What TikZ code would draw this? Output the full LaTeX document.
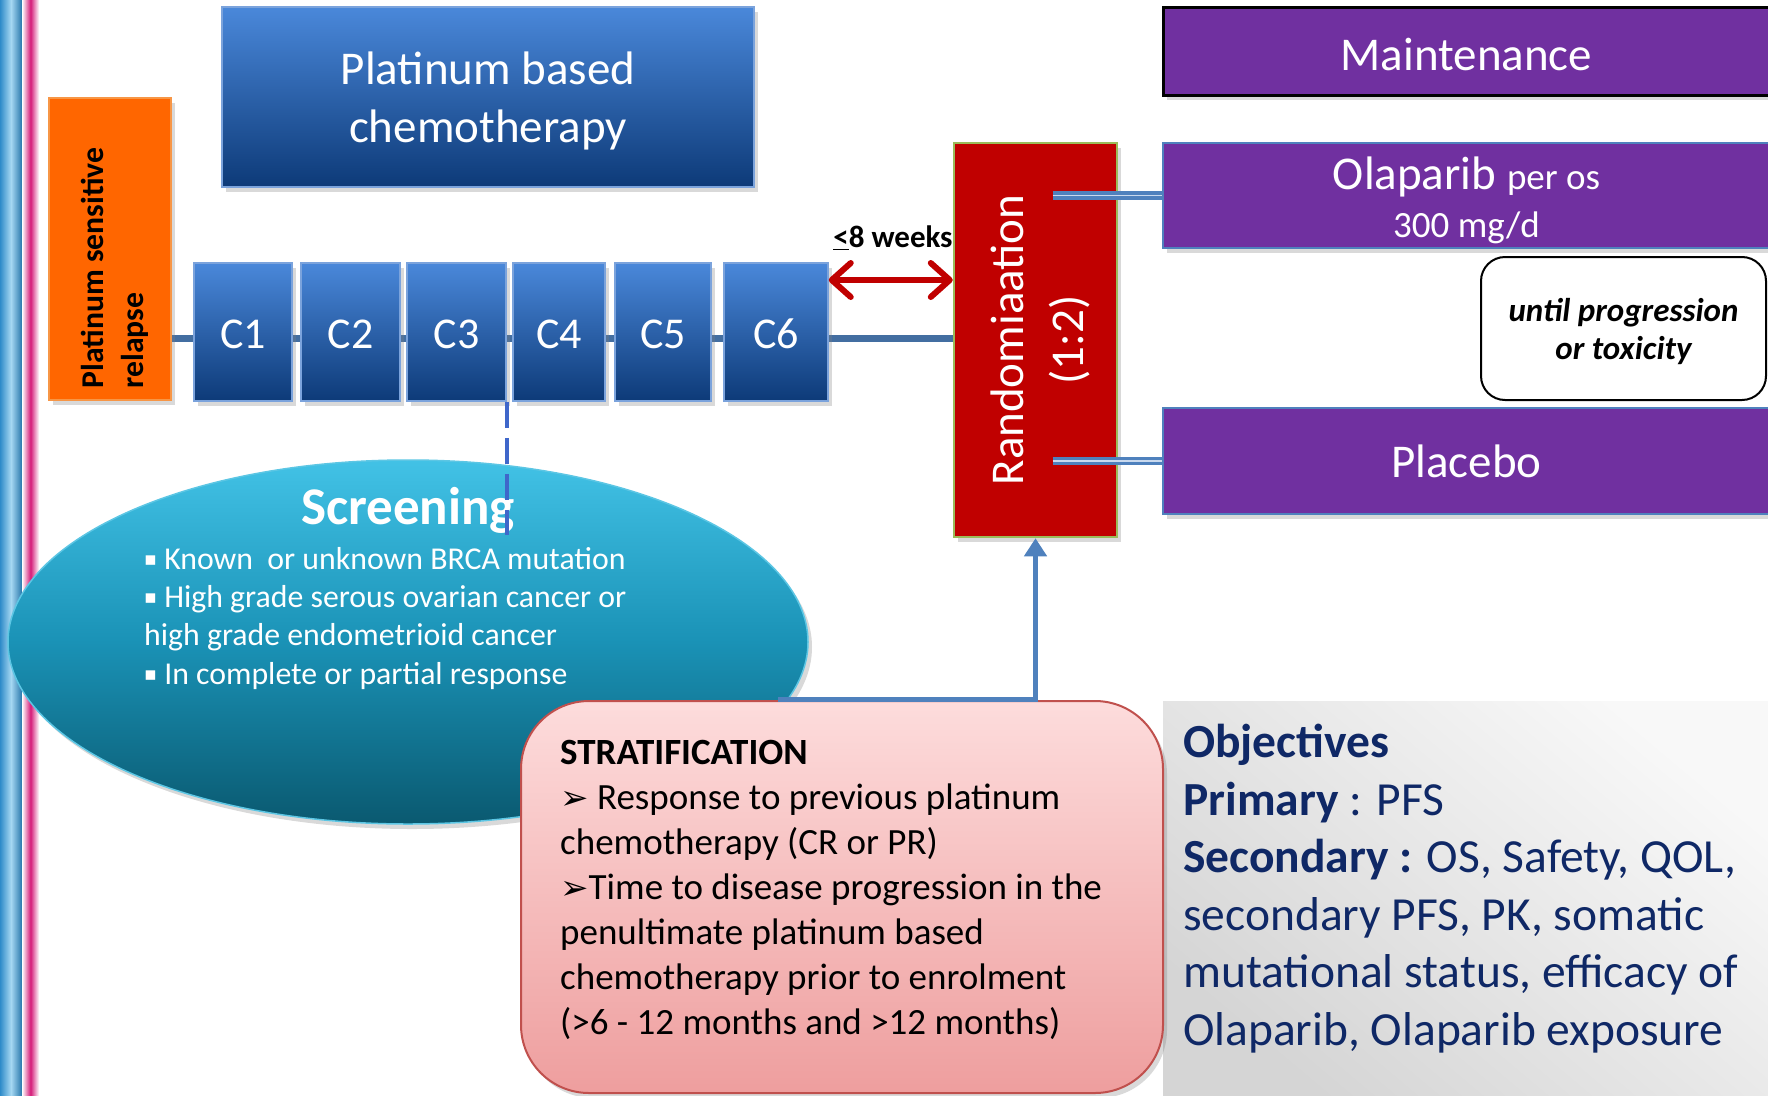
\documentclass[tikz,border=0pt]{standalone}
\usepackage{fontspec}
\setmainfont{Carlito}
\newfontfamily\symfont{DejaVu Sans}
\usetikzlibrary{arrows.meta}
\usetikzlibrary{shadows}
\usetikzlibrary{shapes.geometric, backgrounds, positioning}

\definecolor{relapseorange}{HTML}{FF6600}
\definecolor{relapseedge}{HTML}{F79646}
\definecolor{chemotop}{HTML}{4A88DA}
\definecolor{chemobot}{HTML}{0D3A78}
\definecolor{chemoedge}{HTML}{7BA3DC}
\definecolor{randred}{HTML}{C00000}
\definecolor{randedge}{HTML}{9BBB59}
\definecolor{armpurple}{HTML}{7030A0}
\definecolor{armedge}{HTML}{4F81BD}
\definecolor{linkblue}{HTML}{4F81BD}
\definecolor{linklight}{HTML}{C9D9EE}
\definecolor{screentop}{HTML}{42C2E6}
\definecolor{screenmid}{HTML}{1A92B6}
\definecolor{screenbot}{HTML}{0A5970}
\definecolor{screenedge}{HTML}{5CC6E4}
\definecolor{strattop}{HTML}{FDDCDC}
\definecolor{stratbot}{HTML}{EE9E9E}
\definecolor{stratedge}{HTML}{C0504D}
\definecolor{objtop}{HTML}{F8F8F8}
\definecolor{objbot}{HTML}{D5D5D5}
\definecolor{objtext}{HTML}{0F2866}
\definecolor{barblue}{HTML}{2E8BC9}
\definecolor{barlight}{HTML}{A6D8F2}
\definecolor{barpink}{HTML}{D41B78}

\begin{document}
\begin{tikzpicture}[x=1pt, y=-1pt,
	shadowbox/.style={rectangle, inner sep=0pt, drop shadow={opacity=0.3, shadow xshift=4pt, shadow yshift=-5pt}},
	chemofill/.style={top color=chemotop, bottom color=chemobot, draw=chemoedge, line width=1.5pt},
	cyclebox/.style={shadowbox, chemofill, minimum width=98pt, minimum height=138pt, text=white, text height=33pt, text depth=0pt, font=\fontsize{44}{44}\selectfont},
	armbox/.style={shadowbox, fill=armpurple, draw=armedge, line width=2pt, minimum width=607pt, text=white, font=\fontsize{47}{48}\selectfont},
	armlink/.style={draw=linkblue, line width=3.5pt, double=linklight, double distance=1.5pt},
	trackline/.style={draw=linkblue!85!black, line width=7pt},
	weekarrow/.style={draw=randred, line width=6pt, >={Straight Barb[round, length=19pt, width=34pt]}, <->},
	uplink/.style={draw=linkblue, line width=5pt, -{Triangle[length=18pt, width=22pt]}},
	dashlink/.style={draw=linkblue!80!blue, line width=4pt, dash pattern=on 26pt off 10pt}]
	\useasboundingbox (0,0) rectangle (1768,1095);
%	left bars
	\fill [left color=barblue, right color=barblue!85!black, middle color=barlight] (0,0) rectangle (22,1095);
	\fill [left color=white, right color=white, middle color=barpink] (22,0) rectangle (39,1095);
%	objectives panel
	\node [rectangle, inner sep=0pt, minimum width=605pt, minimum height=394pt, top color=objtop, bottom color=objbot, shading angle=-40] (objpanel) at (1465.5,898) {};
	\node [anchor=north west, inner sep=0pt, align=left, text=objtext, font=\fontsize{47.5}{57.5}\selectfont] (objtext) at (1183,724)
		{\textbf{Objectives}\\\textbf{Primary} : PFS\\\textbf{Secondary :} OS, Safety, QOL,\\secondary PFS, PK, somatic\\mutational status, efficacy of\\Olaparib, Olaparib exposure};
%	relapse and chemotherapy
	\node [shadowbox, fill=relapseorange, draw=relapseedge, line width=1.5pt, minimum width=122pt, minimum height=302pt] (relapse) at (110,249)
		{\rotatebox{90}{\fontsize{31.7}{40}\selectfont\bfseries\raisebox{-5pt}[\height][\depth]{\begin{tabular}{@{}l@{}}Platinum sensitive\\relapse\end{tabular}}\hspace*{38pt}}};
	\node [shadowbox, chemofill, minimum width=532pt, minimum height=180pt, text=white, font=\fontsize{47}{58}\selectfont] (chemo) at (488,97)
		{\raisebox{-5pt}[\height][\depth]{\begin{tabular}{@{}c@{}}Platinum based\\chemotherapy\end{tabular}}};
	\node [cyclebox] (c1) at (243,332) {C1};
	\node [cyclebox, minimum width=99pt] (c2) at (350.5,332) {C2};
	\node [cyclebox, minimum width=99pt] (c3) at (456.5,332) {C3};
	\node [cyclebox, minimum width=92pt] (c4) at (559,332) {C4};
	\node [cyclebox, minimum width=96pt] (c5) at (663,332) {C5};
	\node [cyclebox, minimum width=104pt] (c6) at (776,332) {C6};
	\node [font=\fontsize{31}{31}\selectfont\bfseries] (weeks) at (893,238) {\underline{<}8 weeks};
%	randomisation and arms
	\node [shadowbox, fill=randred, draw=randedge, line width=2.5pt, minimum width=163pt, minimum height=394pt, text=white] (rand) at (1035.5,340)
		{\rotatebox{90}{\fontsize{47}{60}\selectfont\raisebox{-6pt}[\height][\depth]{\begin{tabular}{@{}c@{}}Randomiaation\\(1:2)\end{tabular}}}};
	\node [armbox, draw=black, line width=3pt, minimum height=88pt] (maint) at (1466.5,51) {\raisebox{-4pt}[\height][\depth]{Maintenance}};
	\node [armbox, minimum height=105pt] (olap) at (1466.5,195.5)
		{\raisebox{-8pt}[\height][\depth]{\begin{tabular}{@{}c@{}}Olaparib {\fontsize{37}{48}\selectfont per os}\\{\fontsize{37}{48}\selectfont 300 mg/d}\end{tabular}}};
	\node [armbox, minimum height=106pt] (placebo) at (1466.5,461) {Placebo};
	\node [rectangle, fill=white, draw=black, line width=2pt, rounded corners=24pt, minimum width=285pt, minimum height=143pt, font=\fontsize{33}{38}\selectfont\bfseries\itshape] (until) at (1623.5,328.5)
		{\raisebox{-4pt}[\height][\depth]{\begin{tabular}{@{}c@{}}until progression\\or toxicity\end{tabular}}};
	\coordinate (track) at (0,338);
	\coordinate (wk) at (0,280);
	\begin{scope}[on background layer]
		\draw [trackline] (relapse.east |- track) -- (rand.west |- track);
	\end{scope}
	\draw [weekarrow] (c6.east |- wk) -- (rand.west |- wk);
	\draw [armlink] ([xshift=17pt]rand.center |- olap.west) -- (olap.west);
	\draw [armlink] ([xshift=17pt]rand.center |- placebo.west) -- (placebo.west);
%	screening
	\node [shadowbox, ellipse, top color=screentop, bottom color=screenbot, middle color=screenmid, draw=screenedge, line width=1.5pt, minimum width=800pt, minimum height=364pt] (screen) at (408,642) {};
	\node [text=white, font=\fontsize{53}{53}\selectfont\bfseries] (screentitle) at (408,510) {Screening};
	\node [anchor=north west, inner sep=0pt, align=left, text=white, font=\fontsize{31.8}{38.3}\selectfont] (screenlist) at (144,547)
		{\raisebox{4pt}{\symfont\fontsize{19}{38}\selectfont ▪} Known\ \ or unknown BRCA mutation\\\raisebox{4pt}{\symfont\fontsize{19}{38}\selectfont ▪} High grade serous ovarian cancer or\\high grade endometrioid cancer\\\raisebox{4pt}{\symfont\fontsize{19}{38}\selectfont ▪} In complete or partial response};
	\coordinate (dashend) at (0,535);
	\draw [dashlink] (c3.south east) -- (c3.south east |- dashend);
%	stratification
	\node [shadowbox, top color=strattop, bottom color=stratbot, draw=stratedge, line width=2pt, rounded corners=68pt, minimum width=642pt, minimum height=392pt] (strat) at (842,897) {};
	\node [anchor=north west, inner sep=0pt, align=left, font=\fontsize{37}{45}\selectfont] (strattext) at (560,740)
		{\textbf{STRATIFICATION}\\{\symfont\fontsize{34}{45}\selectfont ➢} Response to previous platinum\\chemotherapy (CR or PR)\\{\symfont\fontsize{34}{45}\selectfont ➢}Time to disease progression in the\\penultimate platinum based\\chemotherapy prior to enrolment\\(>6 - 12 months and >12 months)};
	\coordinate (stratlink) at (778,699);
	\draw [uplink] (stratlink) -| (rand.south);
\end{tikzpicture}
\end{document}
